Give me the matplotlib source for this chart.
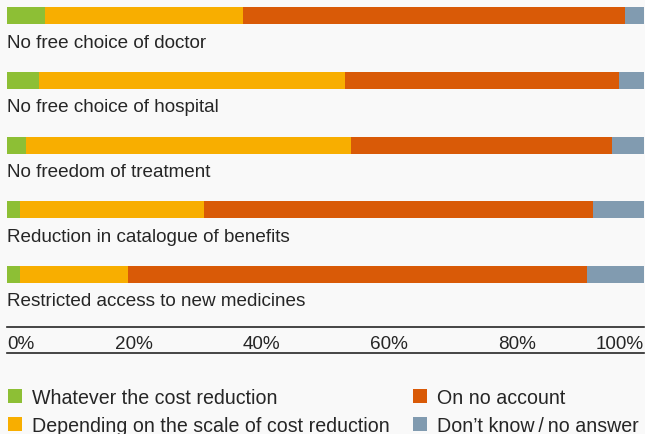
import matplotlib.pyplot as plt
from matplotlib.patches import Patch
from matplotlib.lines import Line2D
import numpy as np

plt.rcParams['font.family'] = ['Liberation Sans', 'DejaVu Sans']

# Survey answers per restriction, in percent
categories = ["No free choice of doctor",
              "No free choice of hospital",
              "No freedom of treatment",
              "Reduction in catalogue of benefits",
              "Restricted access to new medicines"]
whatever_reduction = [6, 5, 3, 2, 2]
depending_on_scale = [31, 48, 51, 29, 17]
on_no_account = [60, 43, 41, 61, 72]
dont_know = [3, 4, 5, 8, 9]

series_names = ["Whatever the cost reduction",
                "Depending on the scale of cost reduction",
                "On no account",
                "Don\u2019t know\u2009/\u2009no answer"]
colors = ["#8dbf35", "#f8ae00", "#d95a07", "#819bb0"]

ticks = [0, 20, 40, 60, 80, 100]
tick_labels = ["0%", "20%", "40%", "60%", "80%", "100%"]

bg = "#f9f9f9"
txt = "#262626"
fs = 13.6

fig = plt.figure(figsize=(6.45, 4.35), dpi=100, facecolor=bg)
ax = fig.add_axes([7 / 645, 1 - 328 / 435, 637 / 645, 328 / 435])
ax.set_facecolor(bg)
ax.set_xlim(0, 100)
ax.set_ylim(328, 0)

y = 16.5 + np.arange(len(categories)) * 64.75
left = np.zeros(len(categories))
for vals, c in zip([whatever_reduction, depending_on_scale, on_no_account, dont_know], colors):
    ax.barh(y, vals, left=left, height=17, color=c, linewidth=0)
    left += np.array(vals)

for yi, cat in zip(y, categories):
    ax.text(0, yi + 31, cat, ha="left", va="baseline", fontsize=fs, color=txt)

for s in ["top", "right", "left"]:
    ax.spines[s].set_visible(False)
ax.spines["bottom"].set_color(txt)
ax.spines["bottom"].set_linewidth(1.2)
ax.set_yticks([])
ax.set_xticks(ticks, tick_labels)
ax.tick_params(axis="x", length=0, pad=5.5, labelsize=fs, labelcolor=txt)
xl = ax.get_xticklabels()
xl[0].set_ha("left")
xl[-1].set_ha("right")

# rule under the percent labels
fig.add_artist(Line2D([7 / 645, 644 / 645], [1 - 354 / 435] * 2,
                      color=txt, lw=1.2, transform=fig.transFigure))

handles = [Patch(facecolor=c, linewidth=0) for c in colors]
fig.legend(handles, series_names, ncol=2, loc="upper left",
           bbox_to_anchor=(8 / 645, 1 - 389 / 435), frameon=False,
           fontsize=14.1, labelcolor=txt, handlelength=0.72, handleheight=0.72,
           handletextpad=0.52, columnspacing=1.15, labelspacing=0.45,
           borderpad=0, borderaxespad=0)

fig.savefig("out.png", dpi=100, facecolor=bg)
